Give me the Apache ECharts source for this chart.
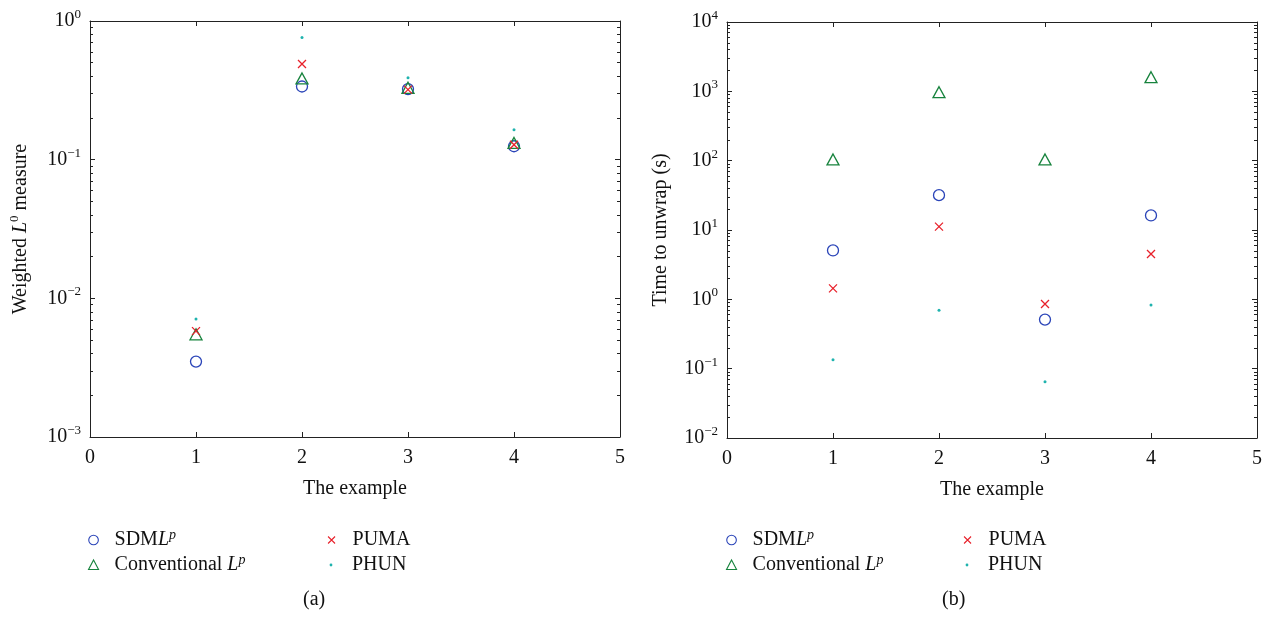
<!DOCTYPE html>
<html>
<head>
<meta charset="utf-8">
<script src="https://cdn.jsdelivr.net/npm/echarts@6/dist/echarts.min.js"></script>
<style>
    html, body { margin: 0; padding: 0; background: #fff; }
    #chart { width: 1270px; height: 619px; }
</style>
</head>
<body>
<div id="chart"></div>
<script>
// the example index (x axis)
var examples = [1, 2, 3, 4];

// (a) weighted L0 measure
var sdmlpL0 = [0.0035, 0.337, 0.323, 0.125];
var convL0 = [0.0055, 0.385, 0.33, 0.132];
var pumaL0 = [0.0058, 0.49, 0.32, 0.128];
var phunL0 = [0.0071, 0.76, 0.39, 0.164];

// (b) time to unwrap (s)
var sdmlpTime = [5.07, 31.8, 0.51, 16.2];
var convTime = [104, 973, 104, 1600];
var pumaTime = [1.44, 11.2, 0.857, 4.5];
var phunTime = [0.134, 0.695, 0.065, 0.83];

// tick labels
var xTicks = [0, 1, 2, 3, 4, 5];
var decadesA = [0.001, 0.01, 0.1, 1];
var decadesB = [0.01, 0.1, 1, 10, 100, 1000, 10000];

var seriesNames = ['SDMLp', 'Conventional Lp', 'PUMA', 'PHUN'];
var colors = ['#2a44b8', '#17833d', '#e8202a', '#1fb3ae'];

var FONT = '"Liberation Serif", "DejaVu Serif", serif';
var FS = 20;
var X_PATH = 'path://M0,0L10,10M10,0L0,10';
var X_ICON = 'path://M0,0M12,12M2.5,2.5L9.5,9.5M9.5,2.5L2.5,9.5';
var CIRCLE_ICON = 'path://M0,0M12,12M1.2,6a4.8,4.8 0 1,0 9.6,0a4.8,4.8 0 1,0 -9.6,0z';
var TRI_ICON = 'path://M0,0M12,12M6,1L11,10.5L1,10.5z';
var DOT_ICON = 'path://M0,0M12,12M4.6,6a1.4,1.4 0 1,0 2.8,0a1.4,1.4 0 1,0 -2.8,0z';
var icons = [CIRCLE_ICON, TRI_ICON, X_ICON, DOT_ICON];

function minorOf(decades) {
    var out = [];
    for (var i = 0; i < decades.length - 1; i++) {
        for (var k = 2; k <= 9; k++) {
            out.push(+(decades[i] * k).toPrecision(3));
        }
    }
    return out;
}

function pow10Label(v) {
    var e = Math.round(Math.log10(v));
    return '{b|10}{e|' + (e < 0 ? '\u2212' + (-e) : e) + '}';
}

var labelRich = {
    b: {fontFamily: FONT, fontSize: FS, color: '#111', lineHeight: 26, verticalAlign: 'middle'},
    e: {fontFamily: FONT, fontSize: 13, color: '#111', lineHeight: 12, verticalAlign: 'top'}
};

var lineStyle = {color: '#222', width: 1};

function makeXAxes(grid) {
    return [{
        type: 'value', gridIndex: grid, min: 0, max: 5, interval: 1,
        name: 'The example', nameLocation: 'middle', nameGap: 42,
        nameTextStyle: {fontFamily: FONT, fontSize: FS, color: '#111'},
        axisLine: {lineStyle: lineStyle},
        axisTick: {inside: true, length: 5, lineStyle: lineStyle},
        axisLabel: {fontFamily: FONT, fontSize: FS, color: '#111', margin: 11,
            customValues: xTicks},
        splitLine: {show: false}
    }, {
        type: 'value', gridIndex: grid, min: 0, max: 5, interval: 1, position: 'top',
        axisLine: {lineStyle: lineStyle},
        axisTick: {inside: true, length: 5, lineStyle: lineStyle},
        axisLabel: {show: false},
        splitLine: {show: false}
    }];
}

function makeYAxes(grid, lo, hi, decades, nameText) {
    var minor = minorOf(decades);
    var base = {type: 'log', logBase: 10, gridIndex: grid, min: lo, max: hi, splitLine: {show: false}};
    return [
        Object.assign({}, base, {
            position: 'left',
            name: nameText, nameLocation: 'middle', nameGap: 56,
            nameTextStyle: {fontFamily: FONT, fontSize: FS, color: '#111',
                rich: {
                    t: {fontFamily: FONT, fontSize: FS, color: '#111', lineHeight: 26},
                    i: {fontFamily: FONT, fontSize: FS, color: '#111', fontStyle: 'italic', lineHeight: 26},
                    s: {fontFamily: FONT, fontSize: 13, color: '#111', verticalAlign: 'top', lineHeight: 12}
                }},
            axisLine: {lineStyle: lineStyle},
            axisTick: {inside: true, length: 5, lineStyle: lineStyle, customValues: decades},
            axisLabel: {margin: 9, formatter: pow10Label, rich: labelRich, customValues: decades}
        }),
        Object.assign({}, base, {
            position: 'left',
            axisLine: {show: false},
            axisTick: {inside: true, length: 3, lineStyle: lineStyle, customValues: minor},
            axisLabel: {show: false}
        }),
        Object.assign({}, base, {
            position: 'right',
            axisLine: {lineStyle: lineStyle},
            axisTick: {inside: true, length: 5, lineStyle: lineStyle, customValues: decades},
            axisLabel: {show: false}
        }),
        Object.assign({}, base, {
            position: 'right',
            axisLine: {show: false},
            axisTick: {inside: true, length: 3, lineStyle: lineStyle, customValues: minor},
            axisLabel: {show: false}
        })
    ];
}

function pairs(ys) {
    return examples.map(function (x, i) { return [x, ys[i]]; });
}

function makeSeries(xIdx, yIdx, sets) {
    var out = [];
    var symbols = ['circle', 'triangle', X_PATH, 'circle'];
    var sizes = [11, [12, 11], 8, 3];
    for (var i = 0; i < 4; i++) {
        var hollow = i < 3;
        out.push({
            name: seriesNames[i],
            type: 'scatter',
            xAxisIndex: xIdx,
            yAxisIndex: yIdx,
            symbol: symbols[i],
            symbolSize: sizes[i],
            z: 2 + i,
            itemStyle: hollow
                ? {color: 'rgba(0,0,0,0)', borderColor: colors[i], borderWidth: 1.3, opacity: 1}
                : {color: colors[i], opacity: 1},
            emphasis: {disabled: true},
            data: pairs(sets[i])
        });
    }
    return out;
}

var legendRich = {
    n: {fontFamily: FONT, fontSize: FS, color: '#111', lineHeight: 24},
    i: {fontFamily: FONT, fontSize: FS, color: '#111', fontStyle: 'italic', lineHeight: 24},
    s: {fontFamily: FONT, fontSize: 14, color: '#111', fontStyle: 'italic', verticalAlign: 'top', lineHeight: 12}
};

function legendName(name) {
    if (name === 'SDMLp') return '{n|SDM}{i|L}{s|p}';
    if (name === 'Conventional Lp') return '{n|Conventional }{i|L}{s|p}';
    return '{n|' + name + '}{s| }';
}

// one legend component per entry so the rows sit exactly where they should
function makeLegend(left, top, idx) {
    return {
        left: left, top: top,
        itemWidth: 12, itemHeight: 12,
        selectedMode: false,
        data: [{name: seriesNames[idx], icon: icons[idx],
            itemStyle: idx < 3 ? {borderWidth: 1.1} : {}}],
        formatter: legendName,
        textStyle: {rich: legendRich, padding: [0, 0, 0, 10]}
    };
}

var legendCols = [82, 320, 720, 956];
var legendRows = [523, 548];

var legends = [];
legendCols.forEach(function (left, c) {
    var col = c % 2;
    legends.push(makeLegend(left, legendRows[0], col * 2));
    legends.push(makeLegend(left, legendRows[1], col * 2 + 1));
});

var chart = echarts.init(document.getElementById('chart'));

var option = {
    backgroundColor: '#fff',
    animation: false,
    title: [
        {text: '(a)', left: 298, top: 585, textStyle: {fontFamily: FONT, fontSize: FS, fontWeight: 'normal', color: '#111'}},
        {text: '(b)', left: 937, top: 585, textStyle: {fontFamily: FONT, fontSize: FS, fontWeight: 'normal', color: '#111'}}
    ],
    grid: [
        {left: 90, top: 21, width: 530, height: 416},
        {left: 727, top: 22, width: 530, height: 416}
    ],
    xAxis: makeXAxes(0).concat(makeXAxes(1)),
    yAxis: makeYAxes(0, 0.001, 1, decadesA, 'Weighted {i|L}{s|0} measure')
        .concat(makeYAxes(1, 0.01, 10000, decadesB, 'Time to unwrap (s)')),
    legend: legends,
    series: makeSeries(0, 0, [sdmlpL0, convL0, pumaL0, phunL0])
        .concat(makeSeries(2, 4, [sdmlpTime, convTime, pumaTime, phunTime]))
};

chart.setOption(option);
</script>
</body>
</html>
